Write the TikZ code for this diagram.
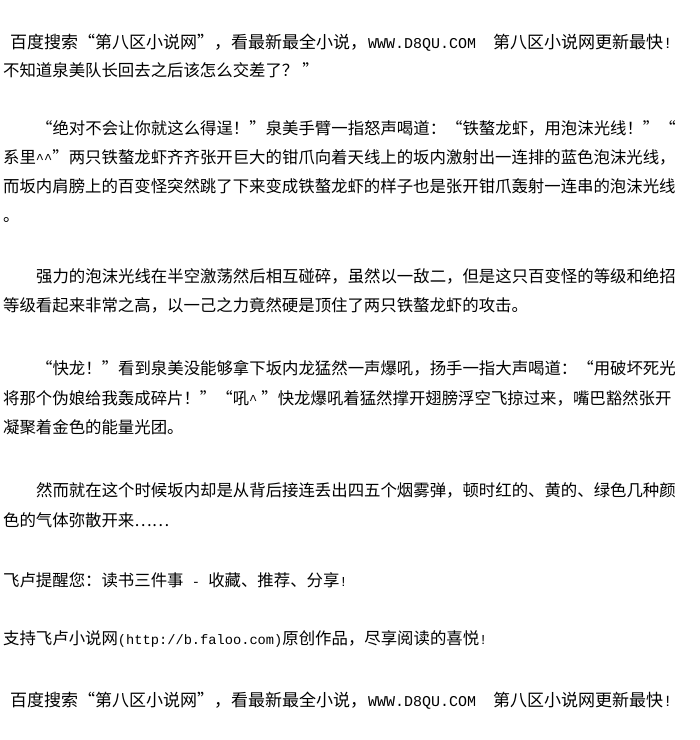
\documentclass[tikz,border=0pt]{standalone}
\usepackage{fontspec}
\newfontfamily\cjk{Noto Sans CJK SC}
\newfontfamily\mono{Liberation Mono}
\newcommand\asc[1]{{\mono\fontsize{13.7}{16}\selectfont #1}}
\newcommand\caretmark{\asc{\textasciicircum}}
\begin{document}
\begin{tikzpicture}[x=1pt,y=-1pt,
  txt/.style={anchor=base west,inner sep=0pt,font=\cjk\fontsize{16.4}{20}\selectfont},
  ad/.style={anchor=base west,inner sep=0pt,font=\cjk\fontsize{17}{20}\selectfont}]
  \fill[white] (0,0) rectangle (700,740);
  \useasboundingbox (0,0) rectangle (700,740);
  %% header
  \node[ad] (h1) at (10,48.5) {百度搜索“第八区小说网”，看最新最全小说，};
  \node[ad,font=\mono\fontsize{15}{18}\selectfont] (h2) at (368,48.5) {WWW.D8QU.COM};
  \node[ad] (h3) at (493,48.5) {第八区小说网更新最快{\mono\fontsize{15.5}{18}\selectfont!}};
  \node[txt] (l2) at (3,76) {不知道泉美队长回去之后该怎么交差了？\kern4pt”};
  %% paragraph 2
  \node[txt] (p2a) at (36,134) {“绝对不会让你就这么得逞！”泉美手臂一指怒声喝道：“铁螯龙虾，用泡沫光线！”“};
  \node[txt] (p2b) at (3,163) {系里\caretmark\caretmark”两只铁螯龙虾齐齐张开巨大的钳爪向着天线上的坂内激射出一连排的蓝色泡沫光线，};
  \node[txt] (p2c) at (3,192) {而坂内肩膀上的百变怪突然跳了下来变成铁螯龙虾的样子也是张开钳爪轰射一连串的泡沫光线};
  \node[txt] (p2d) at (3,221) {。};
  %% paragraph 3
  \node[txt] (p3a) at (36,282) {强力的泡沫光线在半空激荡然后相互碰碎，虽然以一敌二，但是这只百变怪的等级和绝招};
  \node[txt] (p3b) at (3,311) {等级看起来非常之高，以一己之力竟然硬是顶住了两只铁螯龙虾的攻击。};
  %% paragraph 4
  \node[txt] (p4a) at (36,374) {“快龙！”看到泉美没能够拿下坂内龙猛然一声爆吼，扬手一指大声喝道：“用破坏死光};
  \node[txt] (p4b) at (3,404) {将那个伪娘给我轰成碎片！”“吼\caretmark\kern4pt”快龙爆吼着猛然撑开翅膀浮空飞掠过来，嘴巴豁然张开};
  \node[txt] (p4c) at (3,433) {凝聚着金色的能量光团。};
  %% paragraph 5
  \node[txt] (p5a) at (36,496) {然而就在这个时候坂内却是从背后接连丢出四五个烟雾弹，顿时红的、黄的、绿色几种颜};
  \node[txt] (p5b) at (3,526) {色的气体弥散开来……};
  %% footer lines
  \node[txt] (f1) at (3,586) {飞卢提醒您：读书三件事\asc{ - }收藏、推荐、分享\asc{!}};
  \node[txt] (f2) at (3,644) {支持飞卢小说网\asc{(http://b.faloo.com)}原创作品，尽享阅读的喜悦\asc{!}};
  \node[ad] (e1) at (10,706.5) {百度搜索“第八区小说网”，看最新最全小说，};
  \node[ad,font=\mono\fontsize{15}{18}\selectfont] (e2) at (368,706.5) {WWW.D8QU.COM};
  \node[ad] (e3) at (493,706.5) {第八区小说网更新最快{\mono\fontsize{15.5}{18}\selectfont!}};
\end{tikzpicture}
\end{document}
